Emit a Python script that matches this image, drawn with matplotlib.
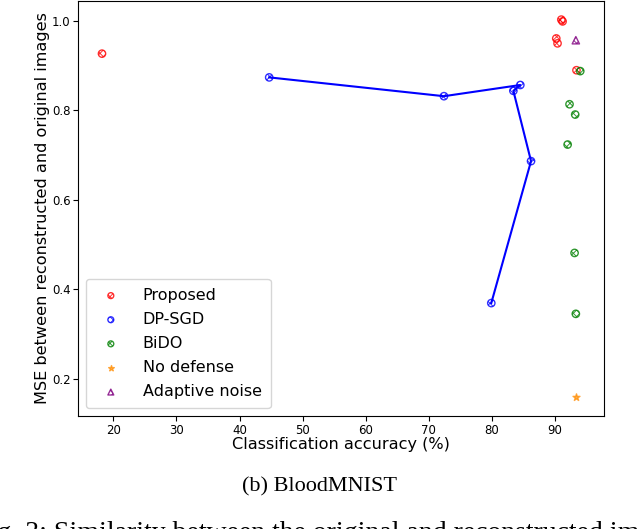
import matplotlib
matplotlib.use('Agg')
from matplotlib import pyplot as plt

# Proposed method (accuracy %, MSE)
prop_acc = [18.2, 91.0, 91.2, 90.2, 90.4, 93.4]
prop_mse = [0.926, 1.002, 0.998, 0.960, 0.949, 0.889]

# DP-SGD, drawn as a connected line
dp_acc = [44.7, 72.4, 84.5, 83.4, 86.2, 79.9]
dp_mse = [0.873, 0.831, 0.856, 0.843, 0.686, 0.369]

# BiDO
bido_acc = [94.0, 92.3, 93.2, 92.0, 93.1, 93.3]
bido_mse = [0.887, 0.813, 0.790, 0.723, 0.481, 0.345]

# No defense
nodef_acc = [93.3]
nodef_mse = [0.159]

# Adaptive noise
adapt_acc = [93.3]
adapt_mse = [0.956]

fig = plt.figure(figsize=(6.4, 5.29), dpi=100)
ax = fig.add_axes([0.122, 0.2136, 0.822, 0.785])

plt.rcParams['hatch.linewidth'] = 0.7

ax.plot(dp_acc, dp_mse, color='blue', linewidth=1.5, zorder=1)
ax.scatter(prop_acc, prop_mse, s=28, marker='o', facecolors='none', edgecolors='red',
           hatch='xxxxx', alpha=0.8, label='Proposed', zorder=3)
ax.scatter(dp_acc, dp_mse, s=28, marker='o', facecolors='none', edgecolors='blue',
           hatch='xxxxx', alpha=0.8, label='DP-SGD', zorder=3)
ax.scatter(bido_acc, bido_mse, s=28, marker='o', facecolors='none', edgecolors='green',
           hatch='xxxxx', alpha=0.8, label='BiDO', zorder=3)
ax.scatter(nodef_acc, nodef_mse, s=28, marker='*', color='darkorange', alpha=0.7,
           label='No defense', zorder=3)
ax.scatter(adapt_acc, adapt_mse, s=28, marker='^', facecolors='none', edgecolors='purple',
           hatch='xxxxx', alpha=0.8, label='Adaptive noise', zorder=3)

ax.set_xticks([20, 30, 40, 50, 60, 70, 80, 90])
ax.set_yticks([0.2, 0.4, 0.6, 0.8, 1.0])
ax.tick_params(labelsize=8.5, pad=2)
ax.set_xlabel('Classification accuracy (%)', fontsize=11.6, labelpad=0)
ax.set_ylabel('MSE between reconstructed and original images', fontsize=11.6, labelpad=1)

ax.legend(loc='lower left', fontsize=11.5, markerscale=0.8, handletextpad=1.0,
          borderpad=0.55, labelspacing=0.57)

fig.text(0.5, 0.070, '(b) BloodMNIST', ha='center', va='baseline',
         family='Liberation Serif', fontsize=16)
fig.text(-26 / 640, -0.020, 'Fig. 3: Similarity between the original and reconstructed images',
         ha='left', va='baseline', family='Liberation Serif', fontsize=20)

fig.savefig('out.png', dpi=100)
